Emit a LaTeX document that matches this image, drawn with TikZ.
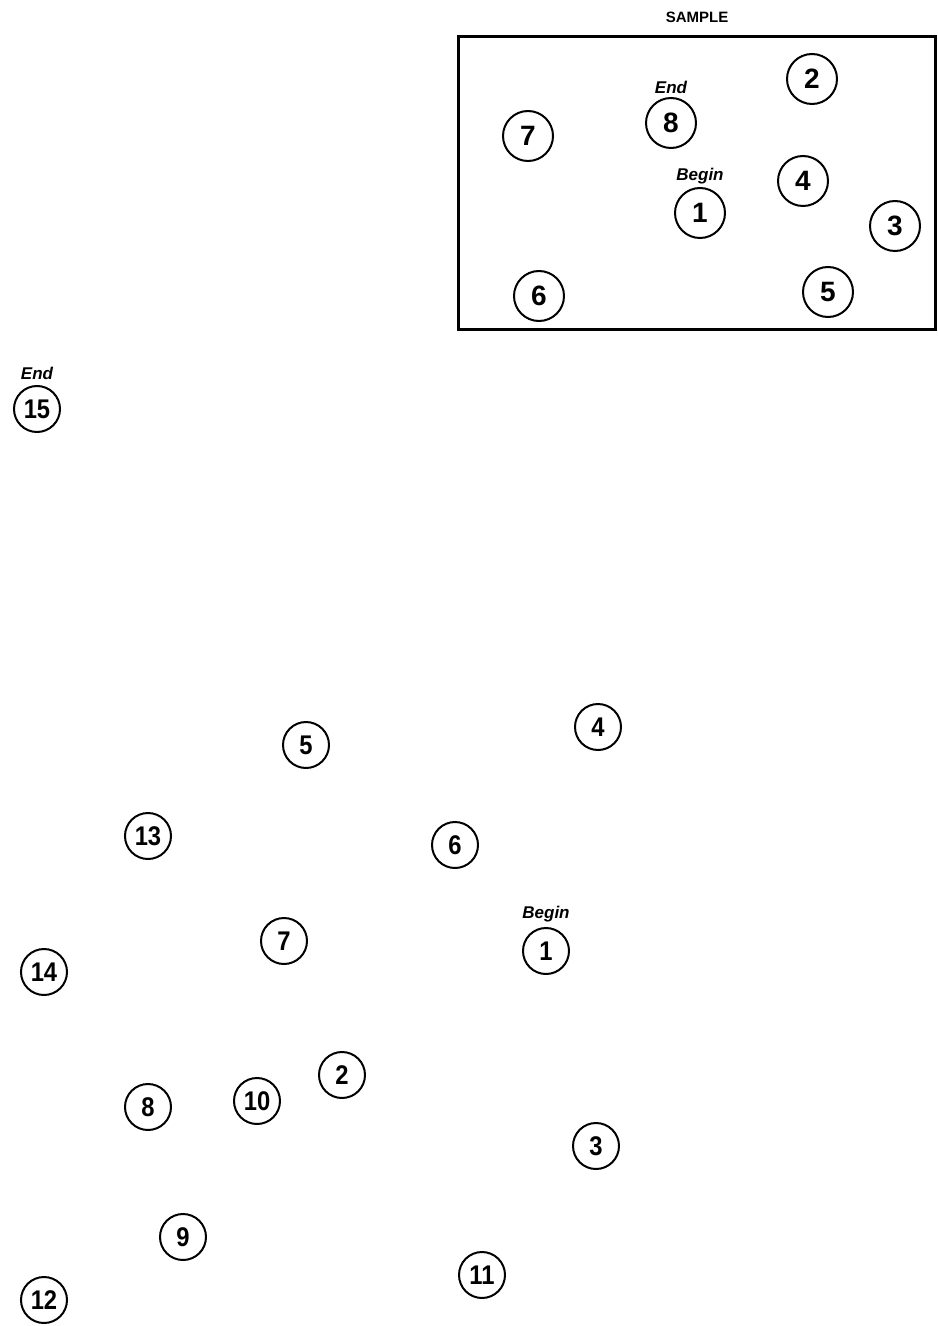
\documentclass[tikz,border=0pt]{standalone}
\usepackage{fontspec}
\setmainfont{Liberation Sans}
\newfontfamily\numfont[FakeStretch=0.88]{Liberation Sans}
\usetikzlibrary{positioning}
\tikzset{
    dot/.style={circle, draw, line width=1pt, minimum size=23pt,
                inner sep=0pt, font=\numfont\bfseries\fontsize{13.5}{13.5}\selectfont},
    sampledot/.style={dot, minimum size=25pt,
                font=\bfseries\fontsize{14}{14}\selectfont},
    tag/.style={font=\bfseries\itshape\fontsize{8.5}{8.5}\selectfont, inner sep=0.5pt},
    frame/.style={draw, line width=1.5pt},
    heading/.style={font=\bfseries\fontsize{7.5}{7.5}\selectfont},
}

\begin{document}
\begin{tikzpicture}[x=0.5pt, y=-0.5pt]
    \useasboundingbox (0,0) rectangle (937,1326);

    % sample panel
    \node[heading] (sample) at (697,17) {SAMPLE};
    \draw[frame] (458,37) rectangle (935,330);
    \node[sampledot] (s1) at (700,213) {1};
    \node[sampledot] (s2) at (812,79) {2};
    \node[sampledot] (s3) at (895,226) {3};
    \node[sampledot] (s4) at (803,181) {4};
    \node[sampledot] (s5) at (828,292) {5};
    \node[sampledot] (s6) at (539,296) {6};
    \node[sampledot] (s7) at (528,136) {7};
    \node[sampledot] (s8) at (671,123) {8};
    \node[tag, above=1pt of s1] (sbegin) {Begin};
    \node[tag, above=1pt of s8] (send) {End};

    % test sheet
    \node[dot] (t1) at (546,951) {1};
    \node[dot] (t2) at (342,1075) {2};
    \node[dot] (t3) at (596,1146) {3};
    \node[dot] (t4) at (598,727) {4};
    \node[dot] (t5) at (306,745) {5};
    \node[dot] (t6) at (455,845) {6};
    \node[dot] (t7) at (284,941) {7};
    \node[dot] (t8) at (148,1107) {8};
    \node[dot] (t9) at (183,1237) {9};
    \node[dot] (t10) at (257,1101) {10};
    \node[dot] (t11) at (482,1275) {11};
    \node[dot] (t12) at (44,1300) {12};
    \node[dot] (t13) at (148,836) {13};
    \node[dot] (t14) at (44,972) {14};
    \node[dot] (t15) at (37,409) {15};
    \node[tag, above=2pt of t1] (tbegin) {Begin};
    \node[tag, above=2pt of t15] (tend) {End};

\end{tikzpicture}
\end{document}
